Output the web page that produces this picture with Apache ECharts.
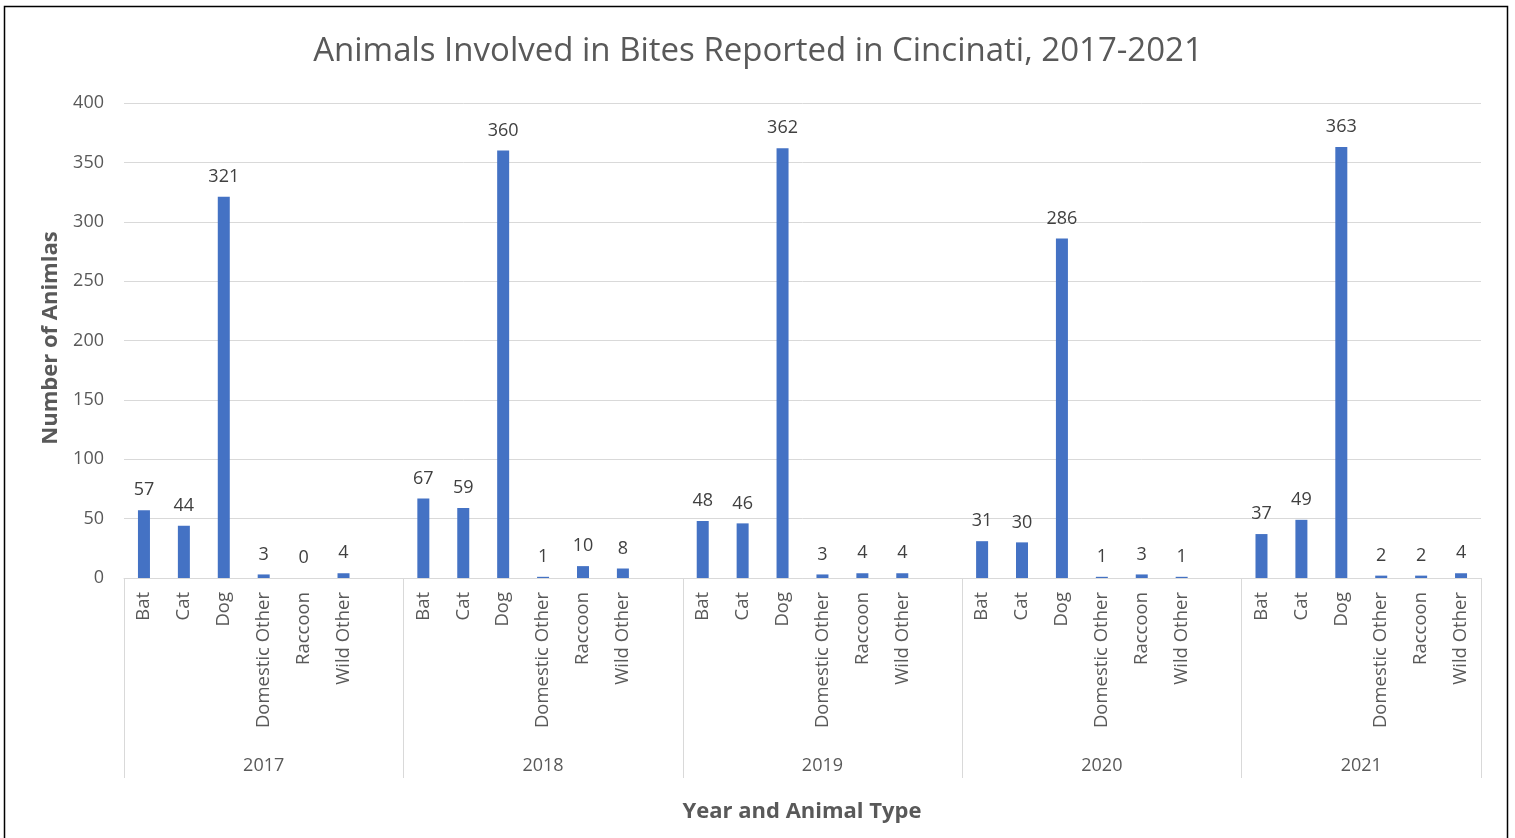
<!DOCTYPE html>
<html>
<head>
<meta charset="utf-8">
<script src="https://cdn.jsdelivr.net/npm/echarts@6/dist/echarts.min.js"></script>
<style>
html,body{margin:0;padding:0;background:#fff;}
#chart{width:1515px;height:838px;}
</style>
</head>
<body>
<div id="chart"></div>
<script>
var years = ['2017', '2018', '2019', '2020', '2021'];
var animals = ['Bat', 'Cat', 'Dog', 'Domestic Other', 'Raccoon', 'Wild Other'];
var values2017 = [57, 44, 321, 3, 0, 4];
var values2018 = [67, 59, 360, 1, 10, 8];
var values2019 = [48, 46, 362, 3, 4, 4];
var values2020 = [31, 30, 286, 1, 3, 1];
var values2021 = [37, 49, 363, 2, 2, 4];
var yTicks = [0, 50, 100, 150, 200, 250, 300, 350, 400];

var allValues = [values2017, values2018, values2019, values2020, values2021];
// Build flat category list; Excel leaves one empty slot between year groups
var categories = [];
var data = [];
var groupBounds = [0];
var groupCenters = [];
years.forEach(function (y, i) {
  var start = categories.length;
  animals.forEach(function (a, j) {
    categories.push(a);
    data.push(allValues[i][j]);
  });
  if (i < years.length - 1) {
    categories.push('');
    data.push('-');
  }
  var end = categories.length;
  groupBounds.push(end);
  groupCenters.push((start + end) / 2);
});
var totalSlots = categories.length;

var FONT = 'Open Sans';
var chart = echarts.init(document.getElementById('chart'), null, {renderer: 'canvas'});
chart.setOption({
  animation: false,
  backgroundColor: '#ffffff',
  textStyle: {fontFamily: FONT},
  title: {
    text: 'Animals Involved in Bites Reported in Cincinati, 2017-2021',
    left: 753, top: 30, textAlign: 'center',
    textStyle: {fontFamily: FONT, fontSize: 33, fontWeight: 'normal', color: '#595959'}
  },
  grid: {left: 124, right: 34, top: 103, bottom: 260, containLabel: false},
  xAxis: [{
    type: 'category',
    data: categories,
    position: 'bottom',
    axisLine: {show: true, lineStyle: {color: '#d9d9d9', width: 1}},
    axisTick: {show: false},
    axisLabel: {interval: 0, rotate: 90, margin: 14, color: '#595959', fontSize: 18.5, fontFamily: FONT},
    splitLine: {show: false}
  }, {
    type: 'value',
    min: 0, max: totalSlots,
    position: 'bottom',
    axisLine: {show: false},
    axisTick: {show: true, length: 200, customValues: groupBounds, lineStyle: {color: '#d9d9d9', width: 1}},
    axisLabel: {
      margin: 179, color: '#595959', fontSize: 18, fontFamily: FONT,
      customValues: groupCenters,
      formatter: function (v) {
        var idx = groupCenters.indexOf(v);
        return idx >= 0 ? years[idx] : '';
      }
    },
    splitLine: {show: false}
  }],
  yAxis: {
    type: 'value',
    min: yTicks[0], max: yTicks[yTicks.length - 1], interval: 50,
    axisLine: {show: false},
    axisTick: {show: false},
    axisLabel: {margin: 20, color: '#595959', fontSize: 18, fontFamily: FONT},
    splitLine: {lineStyle: {color: '#d9d9d9', width: 1}}
  },
  graphic: [{
    type: 'text',
    rotation: Math.PI / 2,
    x: 51, y: 338,
    style: {text: 'Number of Animlas', font: 'bold 22px "Open Sans"', fill: '#595959', textAlign: 'center', textVerticalAlign: 'middle'}
  }, {
    type: 'text',
    x: 802, y: 812,
    style: {text: 'Year and Animal Type', font: 'bold 22px "Open Sans"', fill: '#595959', textAlign: 'center', textVerticalAlign: 'middle'}
  }, {
    type: 'rect',
    shape: {x: 4.5, y: 6.5, width: 1503, height: 860},
    style: {fill: 'none', stroke: '#000000', lineWidth: 1.5},
    silent: true
  }],
  series: [{
    type: 'bar',
    xAxisIndex: 0,
    data: data,
    barWidth: 12,
    itemStyle: {color: '#4472c4'},
    label: {show: true, position: 'top', distance: 11, color: '#404040', fontSize: 18, fontFamily: FONT}
  }]
});
</script>
</body>
</html>
